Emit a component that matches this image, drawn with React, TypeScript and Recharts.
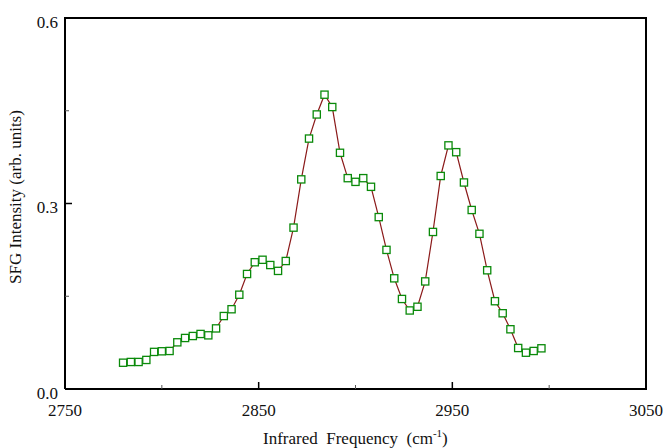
import React from 'react';
import { LineChart, Line, XAxis, YAxis } from 'recharts';

const frequencies = [
  2780, 2784, 2788, 2792, 2796, 2800, 2804, 2808, 2812, 2816,
  2820, 2824, 2828, 2832, 2836, 2840, 2844, 2848, 2852, 2856,
  2860, 2864, 2868, 2872, 2876, 2880, 2884, 2888, 2892, 2896,
  2900, 2904, 2908, 2912, 2916, 2920, 2924, 2928, 2932, 2936,
  2940, 2944, 2948, 2952, 2956, 2960, 2964, 2968, 2972, 2976,
  2980, 2984, 2988, 2992, 2996,
];

const intensities = [
  0.0425, 0.0437, 0.0437, 0.047, 0.060, 0.061, 0.0615, 0.0755, 0.0825, 0.0857,
  0.089, 0.0868, 0.098, 0.118, 0.129, 0.1525, 0.186, 0.205, 0.209, 0.2005,
  0.191, 0.207, 0.261, 0.339, 0.405, 0.444, 0.476, 0.456, 0.382, 0.341,
  0.335, 0.341, 0.327, 0.278, 0.225, 0.179, 0.1456, 0.127, 0.133, 0.174,
  0.254, 0.3445, 0.394, 0.383, 0.334, 0.2895, 0.251, 0.192, 0.142, 0.1225,
  0.0966, 0.0663, 0.0587, 0.0615, 0.0658,
];

const xDomain = [2750, 3050];
const yDomain = [0, 0.6];
const xTicks = [2750, 2800, 2850, 2900, 2950, 3000, 3050];
const xMajorTicks = [2750, 2850, 2950, 3050];
const yTicks = [0, 0.15, 0.3, 0.45, 0.6];
const yTickLabels = ['0.0', '', '0.3', '', '0.6'];

const xLabel = 'Infrared  Frequency  (cm';
const xLabelSup = '-1';
const yLabel = 'SFG Intensity (arb. units)';

const data = frequencies.map((f, i) => ({ freq: f, intensity: intensities[i] }));

const FONT = '"Liberation Serif", "DejaVu Serif", serif';
const W = 667;
const H = 448;
const MARGIN = { top: 18, right: 21, bottom: 0, left: 0 };
const Y_AXIS_W = 65;
const X_AXIS_H = 59;
const PLOT_LEFT = MARGIN.left + Y_AXIS_W;
const PLOT_RIGHT = W - MARGIN.right;
const PLOT_TOP = MARGIN.top;
const PLOT_BOTTOM = H - MARGIN.bottom - X_AXIS_H;

const XTick = (props: any) => {
  const { x, y, payload } = props;
  const v = payload.value;
  const major = xMajorTicks.includes(v);
  return (
    <g>
      <line x1={x} x2={x} y1={y} y2={y - (major ? 7 : 4)} stroke={major ? '#000' : '#555'} strokeWidth={major ? 1.5 : 1} />
      {major && (
        <text x={x} y={y + 27} textAnchor="middle" fontFamily={FONT} fontSize={17} fill="#111">
          {v}
        </text>
      )}
    </g>
  );
};

const YTick = (props: any) => {
  const { x, y, index } = props;
  const label = yTickLabels[index] ?? '';
  const major = label !== '';
  return (
    <g>
      <line x1={x} x2={x + (major ? 7 : 4)} y1={y} y2={y} stroke={major ? '#000' : '#555'} strokeWidth={major ? 1.5 : 1} />
      {major && (
        <text x={x - 7} y={y + 9.5} textAnchor="end" fontFamily={FONT} fontSize={17} fill="#111">
          {label}
        </text>
      )}
    </g>
  );
};

const SquareDot = (props: any) => {
  const { cx, cy, index } = props;
  if (cx == null || cy == null) return <g key={index} />;
  return (
    <rect key={index} x={cx - 3.6} y={cy - 3.6} width={7.2} height={7.2} fill="#fff" stroke="#0a8a0a" strokeWidth={1.3} />
  );
};

const XAxisLabel = () => (
  <text x={263} y={444} fontFamily={FONT} fontSize={17} fill="#111" style={{ whiteSpace: 'pre' }}>
    {xLabel}
    <tspan dy={-7} fontSize={11}>{xLabelSup}</tspan>
    <tspan dy={7}>)</tspan>
  </text>
);

const YAxisLabel = () => (
  <text x={21} y={197} transform="rotate(-90, 21, 197)" textAnchor="middle" fontFamily={FONT} fontSize={17} fill="#111">
    {yLabel}
  </text>
);

export default function App() {
  return (
    <div style={{ position: 'absolute', left: 0, top: 0, width: W, height: H }}>
      <LineChart width={W} height={H} data={data} margin={MARGIN}>
        <XAxis
          dataKey="freq"
          type="number"
          domain={xDomain}
          ticks={xTicks}
          tickSize={0}
          tickMargin={0}
          tickLine={false}
          tick={<XTick />}
          height={X_AXIS_H}
          axisLine={{ stroke: '#000', strokeWidth: 2 }}
          interval={0}
          label={{ content: () => <XAxisLabel /> }}
        />
        <YAxis
          type="number"
          domain={yDomain}
          ticks={yTicks}
          tickSize={0}
          tickMargin={0}
          tickLine={false}
          tick={<YTick />}
          width={Y_AXIS_W}
          interval={0}
          axisLine={{ stroke: '#000', strokeWidth: 2 }}
          label={{ content: () => <YAxisLabel /> }}
        />
        <Line
          type="linear"
          dataKey="intensity"
          stroke="#8b1a1a"
          strokeWidth={1.2}
          dot={SquareDot}
          activeDot={false}
          isAnimationActive={false}
        />
      </LineChart>
      <div
        style={{
          position: 'absolute',
          left: PLOT_LEFT - 1,
          top: PLOT_TOP - 1,
          width: PLOT_RIGHT - PLOT_LEFT + 2,
          height: PLOT_BOTTOM - PLOT_TOP + 2,
          boxSizing: 'border-box',
          borderTop: '2px solid #000',
          borderRight: '2px solid #000',
          pointerEvents: 'none',
        }}
      />
    </div>
  );
}
